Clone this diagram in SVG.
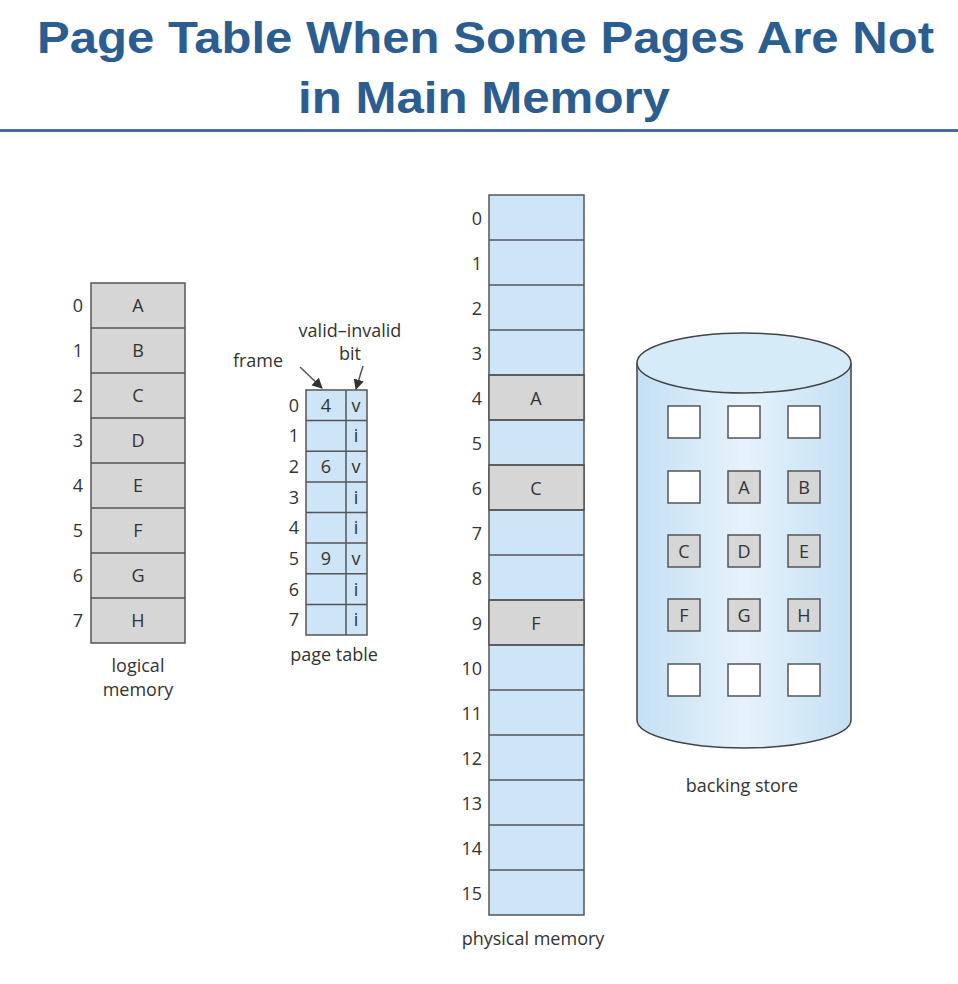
<svg xmlns="http://www.w3.org/2000/svg" width="958" height="984" viewBox="0 0 958 984">
<style>
.t{font-family:"Liberation Sans",Arial,sans-serif;font-weight:bold;font-size:45px;fill:#2b5d91;text-anchor:middle}
.l{font-family:"Open Sans","Liberation Sans",sans-serif;font-size:18px;fill:#333;text-anchor:middle}
.n{font-family:"Open Sans","Liberation Sans",sans-serif;font-size:18px;fill:#333;text-anchor:end}
.g{fill:#d6d6d6;stroke:#555;stroke-width:1.5}
.b{fill:#cde5f6;stroke:#555;stroke-width:1.5}
.w{fill:#fff;stroke:#555;stroke-width:1.5}
.ln{stroke:#555;stroke-width:1.5;fill:none}
</style>
<defs>
<linearGradient id="cyl" x1="0" y1="0" x2="1" y2="0">
<stop offset="0" stop-color="#c4e0f4"/>
<stop offset="0.5" stop-color="#e6f2fb"/>
<stop offset="1" stop-color="#c4e0f4"/>
</linearGradient>
<marker id="ah" viewBox="0 0 10 10" refX="9" refY="5" markerWidth="7" markerHeight="7" orient="auto">
<path d="M0,0 L10,5 L0,10 z" fill="#333"/>
</marker>
</defs>
<rect width="958" height="984" fill="#fff"/>
<g id="title">
<text class="t" x="485.5" y="53" textLength="897" lengthAdjust="spacingAndGlyphs">Page Table When Some Pages Are Not</text>
<text class="t" x="484" y="113" textLength="372" lengthAdjust="spacingAndGlyphs">in Main Memory</text>
<rect x="0" y="129" width="958" height="3" fill="#4a6e9c"/>
</g>
<g id="logical-memory">
<rect class="g" x="91" y="283" width="94" height="360"/>
<path class="ln" d="M91,328H185M91,373H185M91,418H185M91,463H185M91,508H185M91,553H185M91,598H185"/>
<text class="n" x="83" y="312">0</text><text class="l" x="138" y="312">A</text>
<text class="n" x="83" y="357">1</text><text class="l" x="138" y="357">B</text>
<text class="n" x="83" y="402">2</text><text class="l" x="138" y="402">C</text>
<text class="n" x="83" y="447">3</text><text class="l" x="138" y="447">D</text>
<text class="n" x="83" y="492">4</text><text class="l" x="138" y="492">E</text>
<text class="n" x="83" y="537">5</text><text class="l" x="138" y="537">F</text>
<text class="n" x="83" y="582">6</text><text class="l" x="138" y="582">G</text>
<text class="n" x="83" y="627">7</text><text class="l" x="138" y="627">H</text>
<text class="l" x="138" y="672">logical</text>
<text class="l" x="138" y="696">memory</text>
</g>
<g id="page-table">
<rect class="b" x="306" y="390" width="61" height="245"/>
<path class="ln" d="M346,390V635M306,420.6H367M306,451.2H367M306,481.9H367M306,512.5H367M306,543.1H367M306,573.8H367M306,604.4H367"/>
<text class="n" x="299" y="412">0</text><text class="l" x="326" y="412">4</text><text class="l" x="356" y="412">v</text>
<text class="n" x="299" y="442">1</text><text class="l" x="356" y="442">i</text>
<text class="n" x="299" y="473">2</text><text class="l" x="326" y="473">6</text><text class="l" x="356" y="473">v</text>
<text class="n" x="299" y="504">3</text><text class="l" x="356" y="504">i</text>
<text class="n" x="299" y="534">4</text><text class="l" x="356" y="534">i</text>
<text class="n" x="299" y="565">5</text><text class="l" x="326" y="565">9</text><text class="l" x="356" y="565">v</text>
<text class="n" x="299" y="596">6</text><text class="l" x="356" y="596">i</text>
<text class="n" x="299" y="626">7</text><text class="l" x="356" y="626">i</text>
<text class="l" x="334" y="661">page table</text>
<text class="l" x="258" y="367">frame</text>
<text class="l" x="350" y="337">valid–invalid</text>
<text class="l" x="350" y="360">bit</text>
</g>
<g id="physical-memory">
<rect class="b" x="489" y="195" width="95" height="720"/>
<rect class="g" x="489" y="375" width="95" height="45"/>
<rect class="g" x="489" y="465" width="95" height="45"/>
<rect class="g" x="489" y="600" width="95" height="45"/>
<path class="ln" d="M489,240H584M489,285H584M489,330H584M489,375H584M489,420H584M489,465H584M489,510H584M489,555H584M489,600H584M489,645H584M489,690H584M489,735H584M489,780H584M489,825H584M489,870H584"/>
<text class="l" x="536" y="405">A</text>
<text class="l" x="536" y="495">C</text>
<text class="l" x="536" y="630">F</text>
<text class="n" x="482" y="225">0</text>
<text class="n" x="482" y="270">1</text>
<text class="n" x="482" y="315">2</text>
<text class="n" x="482" y="360">3</text>
<text class="n" x="482" y="405">4</text>
<text class="n" x="482" y="450">5</text>
<text class="n" x="482" y="495">6</text>
<text class="n" x="482" y="540">7</text>
<text class="n" x="482" y="585">8</text>
<text class="n" x="482" y="630">9</text>
<text class="n" x="482" y="675">10</text>
<text class="n" x="482" y="720">11</text>
<text class="n" x="482" y="765">12</text>
<text class="n" x="482" y="810">13</text>
<text class="n" x="482" y="855">14</text>
<text class="n" x="482" y="900">15</text>
<text class="l" x="533" y="945">physical memory</text>
</g>
<g id="backing-store">
<path d="M637,363V720A107,28 0 0 0 851,720V363" fill="url(#cyl)" stroke="#444" stroke-width="1.5"/>
<ellipse cx="744" cy="363" rx="107" ry="30" fill="#d6ebf8" stroke="#444" stroke-width="1.5"/>
<rect class="w" x="668" y="406" width="32" height="32"/>
<rect class="w" x="728" y="406" width="32" height="32"/>
<rect class="w" x="788" y="406" width="32" height="32"/>
<rect class="w" x="668" y="471" width="32" height="32"/>
<rect class="g" x="728" y="471" width="32" height="32"/>
<rect class="g" x="788" y="471" width="32" height="32"/>
<rect class="g" x="668" y="535" width="32" height="32"/>
<rect class="g" x="728" y="535" width="32" height="32"/>
<rect class="g" x="788" y="535" width="32" height="32"/>
<rect class="g" x="668" y="599" width="32" height="32"/>
<rect class="g" x="728" y="599" width="32" height="32"/>
<rect class="g" x="788" y="599" width="32" height="32"/>
<rect class="w" x="668" y="664" width="32" height="32"/>
<rect class="w" x="728" y="664" width="32" height="32"/>
<rect class="w" x="788" y="664" width="32" height="32"/>
<text class="l" x="744" y="494">A</text>
<text class="l" x="804" y="494">B</text>
<text class="l" x="684" y="558">C</text>
<text class="l" x="744" y="558">D</text>
<text class="l" x="804" y="558">E</text>
<text class="l" x="684" y="622">F</text>
<text class="l" x="744" y="622">G</text>
<text class="l" x="804" y="622">H</text>
<text class="l" x="742" y="792">backing store</text>
</g>
<g id="connectors">
<line class="ln" x1="300" y1="367" x2="322" y2="388" marker-end="url(#ah)"/>
<line class="ln" x1="363" y1="366" x2="356" y2="389" marker-end="url(#ah)"/>
</g>
</svg>
